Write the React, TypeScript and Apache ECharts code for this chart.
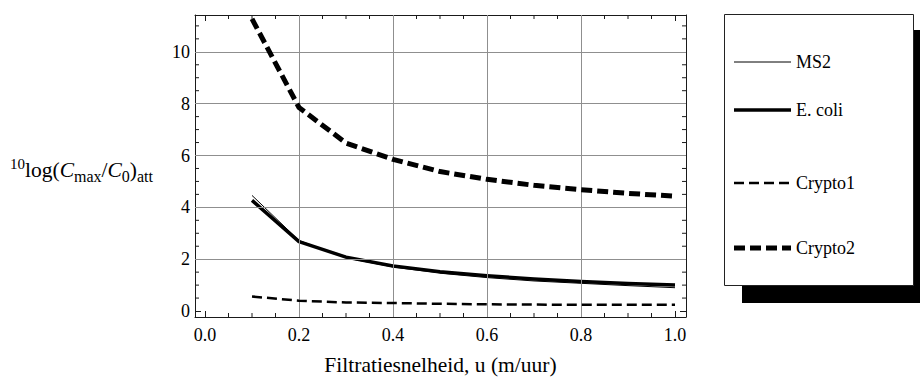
import React, { useEffect, useRef } from "react";
import * as echarts from "echarts";

// ---- data ----
const velocities = [0.1, 0.2, 0.3, 0.4, 0.5, 0.6, 0.7, 0.8, 0.9, 1.0];
const ms2 = [4.46, 2.72, 2.05, 1.7, 1.46, 1.29, 1.16, 1.07, 0.98, 0.9];
const ecoli = [4.27, 2.68, 2.08, 1.74, 1.52, 1.36, 1.24, 1.14, 1.06, 1.0];
const crypto1 = [0.56, 0.4, 0.33, 0.31, 0.28, 0.26, 0.25, 0.24, 0.24, 0.24];
const crypto2 = [11.27, 7.85, 6.48, 5.85, 5.38, 5.08, 4.85, 4.68, 4.54, 4.43];
const seriesNames = ["MS2", "E. coli", "Crypto1", "Crypto2"];
const xGridValues = [0.2, 0.4, 0.6, 0.8];
const yGridValues = [2, 4, 6, 8, 10];
const xTitle = "Filtratiesnelheid, u (m/uur)";

const X_MIN = -0.0213;
const X_MAX = 1.0234;
const Y_MIN = -0.23;
const Y_MAX = 11.42;

const FONT = "Liberation Serif";
const FRAME = "#1a1a1a";
const GRIDC = "#8f8f8f";

const lineStyles = [
  { width: 1, type: "solid" as any },
  { width: 3.5, type: "solid" as any },
  { width: 2.5, type: [10, 5] as any },
  { width: 5, type: [11, 5] as any },
];

function minorTicks(): number[][] {
  const out: number[][] = [];
  for (let i = 1; i <= 20; i++) {
    if (i % 4 !== 0) out.push([0, i * 0.05]);
  }
  for (let i = 1; i <= 22; i++) {
    if (i % 4 !== 0) out.push([1, i * 0.5]);
  }
  return out;
}

function makeAxisX(position: "bottom" | "top", withLabels: boolean): any {
  return {
    type: "value",
    position,
    min: X_MIN,
    max: X_MAX,
    splitNumber: 5,
    axisLine: { show: true, onZero: false, lineStyle: { color: FRAME, width: 1 } },
    axisTick: { show: true, inside: true, length: 6, lineStyle: { color: FRAME } },
    splitLine: { show: false },
    axisLabel: withLabels
      ? {
          show: true,
          margin: 9,
          color: "#000",
          fontFamily: FONT,
          fontSize: 18,
          showMinLabel: false,
          showMaxLabel: false,
          formatter: (v: number) =>
            Math.abs(v * 5 - Math.round(v * 5)) < 1e-6 ? v.toFixed(1) : "",
        }
      : { show: false },
    ...(withLabels
      ? {
          name: xTitle,
          nameLocation: "middle",
          nameGap: 37,
          nameTextStyle: { color: "#000", fontFamily: FONT, fontSize: 21.5 },
        }
      : {}),
  };
}

function makeAxisY(position: "left" | "right", withLabels: boolean): any {
  return {
    type: "value",
    position,
    min: Y_MIN,
    max: Y_MAX,
    splitNumber: 6,
    axisLine: { show: true, onZero: false, lineStyle: { color: FRAME, width: 1 } },
    axisTick: { show: true, inside: true, length: 6, lineStyle: { color: FRAME } },
    splitLine: { show: false },
    axisLabel: withLabels
      ? {
          show: true,
          margin: 5,
          color: "#000",
          fontFamily: FONT,
          fontSize: 18,
          showMinLabel: false,
          showMaxLabel: false,
          formatter: (v: number) =>
            Math.abs(v - Math.round(v)) < 1e-6 ? String(Math.round(v)) : "",
        }
      : { show: false },
  };
}

export default function App() {
  const ref = useRef<HTMLDivElement>(null);

  useEffect(() => {
    if (!ref.current) return;
    const chart = echarts.init(ref.current, undefined, { renderer: "svg" });

    const values = [ms2, ecoli, crypto1, crypto2];
    const lineSeries = values.map((vals, i) => ({
      name: seriesNames[i],
      type: "line",
      xAxisIndex: 0,
      yAxisIndex: 0,
      data: velocities.map((x, j) => [x, vals[j]]),
      showSymbol: false,
      symbol: "none",
      z: 3 + i,
      lineStyle: {
        color: "#000",
        width: lineStyles[i].width,
        type: lineStyles[i].type,
        cap: "butt",
        join: "round",
      },
      silent: true,
    }));

    const legendYs = [62, 110, 183, 248];
    const legendEls: any[] = [
      {
        type: "rect",
        shape: { x: 742, y: 30, width: 189, height: 273 },
        style: { fill: "#000" },
        z: 10,
      },
      {
        type: "rect",
        shape: { x: 724.5, y: 14.5, width: 189, height: 271 },
        style: { fill: "#fff", stroke: "#222", lineWidth: 1 },
        z: 11,
      },
    ];
    seriesNames.forEach((name, i) => {
      legendEls.push({
        type: "line",
        shape: { x1: 734, y1: legendYs[i], x2: 791, y2: legendYs[i] },
        style: {
          stroke: "#000",
          lineWidth: lineStyles[i].width,
          lineDash: Array.isArray(lineStyles[i].type) ? lineStyles[i].type : null,
        },
        z: 12,
      });
      legendEls.push({
        type: "text",
        x: 796,
        y: legendYs[i],
        style: {
          text: name,
          fill: "#000",
          fontFamily: FONT,
          fontSize: 18,
          verticalAlign: "middle",
          align: "left",
        },
        z: 12,
      });
    });

    const yLabelEls: any[] = [
      {
        type: "text",
        x: 10,
        y: 170,
        style: {
          text: "{sup|10}{n|log(}{it|C}{sub|max}{n|/}{it|C}{sub|0}{n|)}{sub|att}",
          verticalAlign: "middle",
          align: "left",
          rich: {
            sup: {
              fontFamily: FONT,
              fontSize: 15,
              lineHeight: 10,
              verticalAlign: "top",
              color: "#000",
            },
            n: { fontFamily: FONT, fontSize: 21.5, lineHeight: 28, color: "#000" },
            it: {
              fontFamily: FONT,
              fontSize: 21.5,
              fontStyle: "italic",
              lineHeight: 28,
              color: "#000",
            },
            sub: {
              fontFamily: FONT,
              fontSize: 16,
              lineHeight: 18,
              verticalAlign: "bottom",
              color: "#000",
            },
          },
        },
      },
    ];

    const option: any = {
      animation: false,
      backgroundColor: "#fff",
      textStyle: { fontFamily: FONT },
      grid: { left: 195, top: 15, right: 234, bottom: 63, containLabel: false },
      xAxis: [makeAxisX("bottom", true), makeAxisX("top", false)],
      yAxis: [makeAxisY("left", true), makeAxisY("right", false)],
      series: [
        {
          type: "custom",
          name: "ticks",
          xAxisIndex: 0,
          yAxisIndex: 0,
          z: 1,
          silent: true,
          data: minorTicks(),
          renderItem: (params: any, api: any) => {
            const kind = api.value(0);
            const v = api.value(1);
            const len = 4;
            const st = { stroke: FRAME, lineWidth: 1 };
            if (kind === 0) {
              const b = api.coord([v, Y_MIN]);
              const t = api.coord([v, Y_MAX]);
              return {
                type: "group",
                children: [
                  { type: "line", shape: { x1: b[0], y1: b[1], x2: b[0], y2: b[1] - len }, style: st },
                  { type: "line", shape: { x1: t[0], y1: t[1], x2: t[0], y2: t[1] + len }, style: st },
                ],
              };
            }
            const l = api.coord([X_MIN, v]);
            const r = api.coord([X_MAX, v]);
            return {
              type: "group",
              children: [
                { type: "line", shape: { x1: l[0], y1: l[1], x2: l[0] + len, y2: l[1] }, style: st },
                { type: "line", shape: { x1: r[0], y1: r[1], x2: r[0] - len, y2: r[1] }, style: st },
              ],
            };
          },
          markLine: {
            silent: true,
            symbol: "none",
            label: { show: false },
            lineStyle: { color: GRIDC, width: 1, type: "solid" },
            data: [
              ...yGridValues.map((v) => ({ yAxis: v })),
              ...xGridValues.map((v) => ({ xAxis: v })),
            ],
          },
        },
        ...lineSeries,
      ],
      graphic: [...legendEls, ...yLabelEls],
    };

    chart.setOption(option);
    return () => chart.dispose();
  }, []);

  return (
    <div
      ref={ref}
      style={{ position: "fixed", left: 0, top: 0, width: 920, height: 381, background: "#fff" }}
    />
  );
}
